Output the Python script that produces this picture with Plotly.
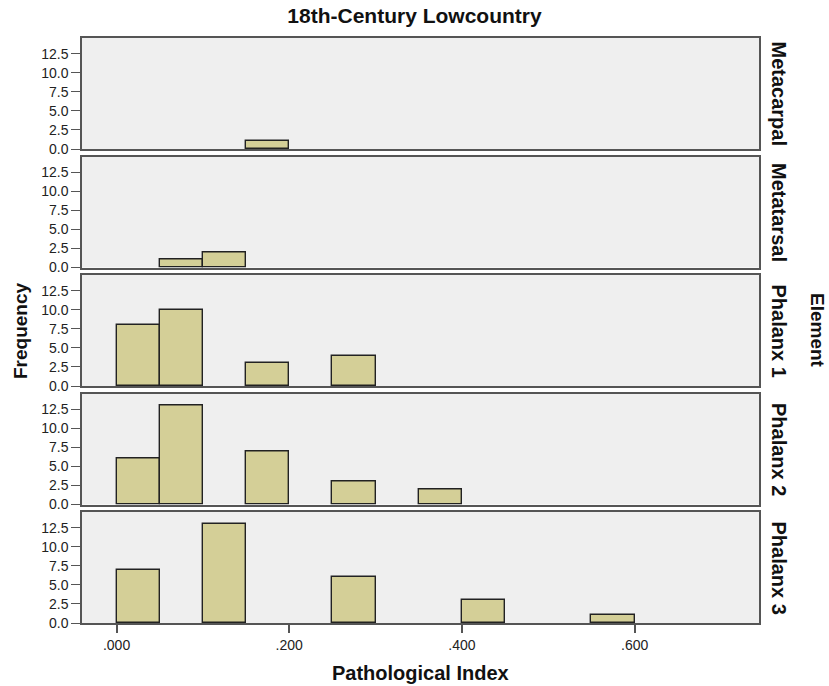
import plotly.graph_objects as go
from plotly.subplots import make_subplots

# Histogram bins (width .05) and counts per element
bin_width = 0.05
bin_left_edges = [0.00, 0.05, 0.10, 0.15, 0.20, 0.25, 0.30, 0.35, 0.40, 0.45, 0.50, 0.55]
elements = ["Metacarpal", "Metatarsal", "Phalanx 1", "Phalanx 2", "Phalanx 3"]
metacarpal = [0, 0, 0, 1, 0, 0, 0, 0, 0, 0, 0, 0]
metatarsal = [0, 1, 2, 0, 0, 0, 0, 0, 0, 0, 0, 0]
phalanx_1 = [8, 10, 0, 3, 0, 4, 0, 0, 0, 0, 0, 0]
phalanx_2 = [6, 13, 0, 7, 0, 3, 0, 2, 0, 0, 0, 0]
phalanx_3 = [7, 0, 13, 0, 0, 6, 0, 0, 3, 0, 0, 1]
counts = [metacarpal, metatarsal, phalanx_1, phalanx_2, phalanx_3]

y_tick_vals = [0.0, 2.5, 5.0, 7.5, 10.0, 12.5]
x_tick_vals = [0.0, 0.2, 0.4, 0.6]
x_tick_text = [".000", ".200", ".400", ".600"]

BAR_FILL = "#D4CF97"
BAR_LINE = "#222222"
PANEL_BG = "#EFEFEF"
AXIS_LINE = "#555555"
FONT = "Liberation Sans, Arial, sans-serif"

n = len(elements)
fig = make_subplots(rows=n, cols=1, shared_xaxes=True, vertical_spacing=7.5 / 585)

centers = [e + bin_width / 2 for e in bin_left_edges]
for i, vals in enumerate(counts, start=1):
    xs = [c for c, v in zip(centers, vals) if v > 0]
    ys = [v for v in vals if v > 0]
    fig.add_trace(
        go.Bar(
            x=xs, y=ys, width=bin_width,
            marker=dict(color=BAR_FILL, line=dict(color=BAR_LINE, width=1.4)),
            showlegend=False, hoverinfo="x+y",
        ),
        row=i, col=1,
    )
    fig.update_yaxes(
        range=[0, 14.6], tickvals=y_tick_vals,
        ticktext=[f"{v:.1f}" for v in y_tick_vals],
        ticks="outside", ticklen=9, tickwidth=1.3, tickcolor=AXIS_LINE,
        showgrid=False, zeroline=False,
        showline=True, mirror=True, linecolor=AXIS_LINE, linewidth=1.5,
        tickfont=dict(size=14, color="#222", family=FONT),
        row=i, col=1,
    )
    fig.update_xaxes(
        range=[-0.04, 0.744], tickvals=x_tick_vals,
        ticktext=x_tick_text if i == n else None,
        showticklabels=(i == n),
        ticks="outside" if i == n else "", ticklen=8, tickwidth=1.5, tickcolor=AXIS_LINE,
        showgrid=False, zeroline=False,
        showline=True, mirror=True, linecolor=AXIS_LINE, linewidth=1.5,
        tickfont=dict(size=14, color="#222", family=FONT),
        row=i, col=1,
    )

# Facet labels on the right of each panel
for i, name in enumerate(elements, start=1):
    yref = "y domain" if i == 1 else f"y{i} domain"
    fig.add_annotation(
        text=f"<b>{name}</b>", xref="paper", yref=yref,
        x=1.0, y=0.5, xanchor="left", yanchor="middle", xshift=7,
        textangle=90, showarrow=False,
        font=dict(size=20, color="#111", family=FONT),
    )

fig.add_annotation(
    text="<b>Element</b>", xref="paper", yref="paper", x=1.0, y=0.5,
    xanchor="left", yanchor="middle", xshift=46, textangle=90, showarrow=False,
    font=dict(size=19, color="#111", family=FONT),
)
fig.add_annotation(
    text="<b>Frequency</b>", xref="paper", yref="paper", x=0.0, y=0.5,
    xanchor="right", yanchor="middle", xshift=-49, textangle=-90, showarrow=False,
    font=dict(size=19, color="#111", family=FONT),
)
fig.add_annotation(
    text="<b>Pathological Index</b>", xref="paper", yref="paper", x=0.5, y=0.0,
    xanchor="center", yanchor="top", yshift=-37, showarrow=False,
    font=dict(size=20, color="#111", family=FONT),
)

fig.update_layout(
    width=829, height=686,
    margin=dict(l=82, r=70, t=38, b=63),
    title=dict(text="<b>18th-Century Lowcountry</b>", x=0.5, xanchor="center",
               y=1 - 16 / 686, yanchor="middle",
               font=dict(size=21, color="#111", family=FONT)),
    paper_bgcolor="white", plot_bgcolor=PANEL_BG,
    bargap=0, showlegend=False,
)

fig.write_html("out.html")
